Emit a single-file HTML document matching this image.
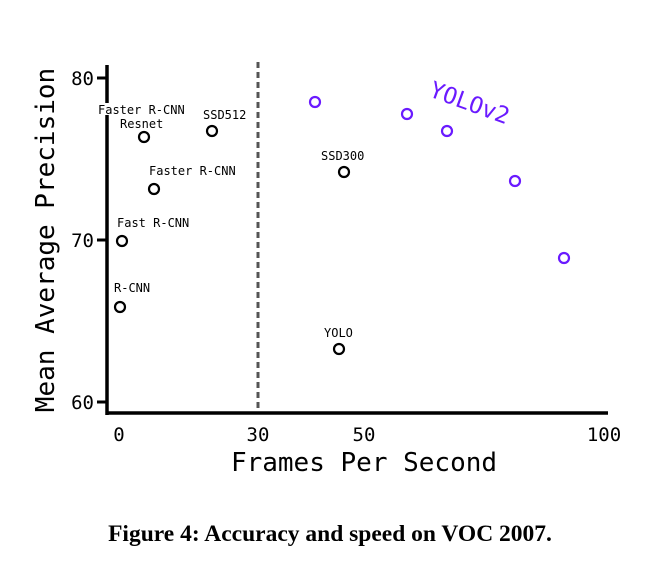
<!DOCTYPE html>
<html><head><style>
body{margin:0;background:#fff;width:659px;height:573px;overflow:hidden}
</style></head><body>
<svg width="659" height="573" xmlns="http://www.w3.org/2000/svg" font-family="DejaVu Sans Mono, Liberation Mono, monospace">
<line x1="258" y1="62" x2="258" y2="413" stroke="#555" stroke-width="3" stroke-dasharray="6,4"/>
<line x1="107" y1="65" x2="107" y2="415" stroke="#000" stroke-width="3.5"/>
<line x1="105.5" y1="413" x2="608" y2="413" stroke="#000" stroke-width="3.5"/>
<line x1="97" y1="78" x2="107" y2="78" stroke="#000" stroke-width="3"/>
<line x1="97" y1="240" x2="107" y2="240" stroke="#000" stroke-width="3"/>
<line x1="97" y1="402" x2="107" y2="402" stroke="#000" stroke-width="3"/>
<g font-size="19" fill="#000" text-anchor="end">
<text x="94" y="85">80</text><text x="94" y="247">70</text><text x="94" y="409">60</text>
</g>
<g font-size="19" fill="#000" text-anchor="middle">
<text x="119" y="441">0</text><text x="258" y="441">30</text><text x="364" y="441">50</text><text x="604" y="441">100</text>
</g>
<text x="364" y="471" font-size="26" text-anchor="middle">Frames Per Second</text>
<text transform="translate(54,240) rotate(-90)" font-size="26" text-anchor="middle">Mean Average Precision</text>
<rect x="98" y="103" width="90" height="12" fill="#fff"/>
<g font-size="12" fill="#000">
<text x="98" y="114">Faster R-CNN</text>
<text x="120" y="128">Resnet</text>
<text x="203" y="119">SSD512</text>
<text x="149" y="175">Faster R-CNN</text>
<text x="117" y="227">Fast R-CNN</text>
<text x="114" y="292">R-CNN</text>
<text x="321" y="160">SSD300</text>
<text x="324" y="337">YOLO</text>
</g>
<g fill="none" stroke="#000" stroke-width="2.2">
<circle cx="144" cy="137" r="5"/><circle cx="212" cy="131" r="5"/><circle cx="154" cy="189" r="5"/>
<circle cx="122" cy="241" r="5"/><circle cx="120" cy="307" r="5"/><circle cx="344" cy="172" r="5"/><circle cx="339" cy="349" r="5"/>
</g>
<g fill="none" stroke="#6a1aff" stroke-width="2.2">
<circle cx="315" cy="102" r="5"/><circle cx="407" cy="114" r="5"/><circle cx="447" cy="131" r="5"/>
<circle cx="515" cy="181" r="5"/><circle cx="564" cy="258" r="5"/>
</g>
<text transform="translate(428,96) rotate(20)" font-size="23" fill="#6a1aff">YOLOv2</text>
<text x="330" y="541" font-family="Liberation Serif, serif" font-size="23.5" font-weight="bold" text-anchor="middle">Figure 4: Accuracy and speed on VOC 2007.</text>
</svg>
</body></html>
